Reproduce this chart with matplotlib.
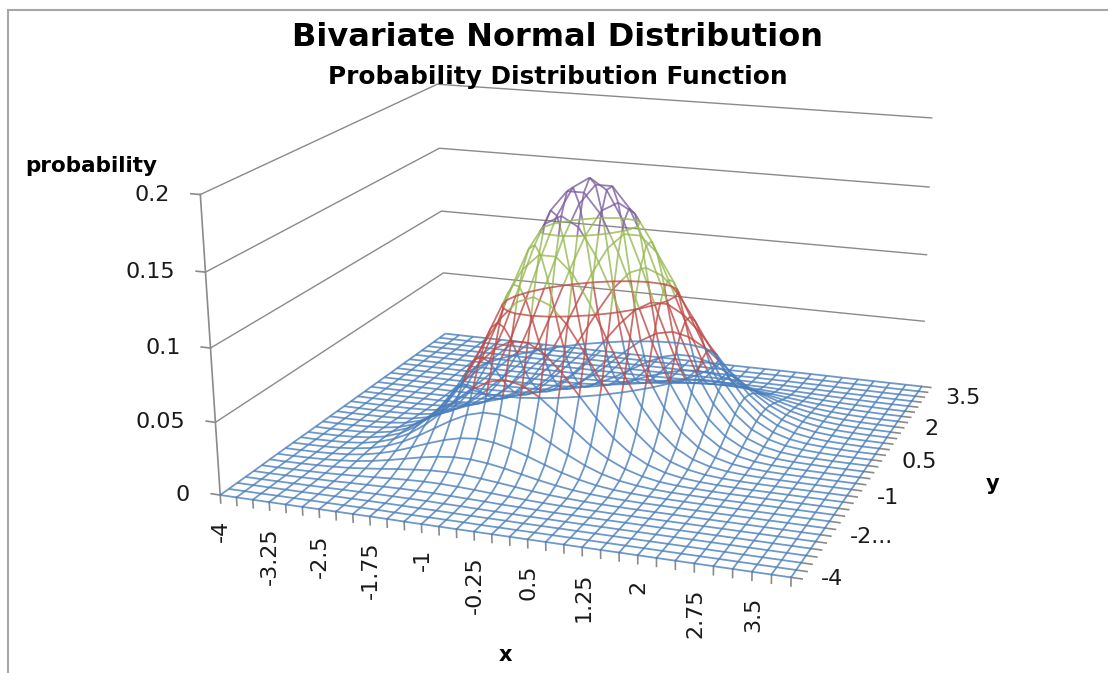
import numpy as np
import matplotlib
matplotlib.use('Agg')
import matplotlib.pyplot as plt
from matplotlib.patches import Rectangle
from mpl_toolkits.mplot3d import proj3d
from mpl_toolkits.mplot3d.art3d import Line3DCollection

W, H = 1108, 673

x_vals = np.arange(-4, 4.25, 0.25)
y_vals = np.arange(-4, 4.25, 0.25)
x_ticks = [-4, -3.25, -2.5, -1.75, -1, -0.25, 0.5, 1.25, 2, 2.75, 3.5]
x_tick_labels = ['-4', '-3.25', '-2.5', '-1.75', '-1', '-0.25', '0.5', '1.25', '2', '2.75', '3.5']
y_ticks = [-4, -2.5, -1, 0.5, 2, 3.5]
y_tick_labels = ['-4', '-2...', '-1', '0.5', '2', '3.5']
z_ticks = [0, 0.05, 0.1, 0.15, 0.2]
z_tick_labels = ['0', '0.05', '0.1', '0.15', '0.2']

band_edges = [0.05, 0.1, 0.15]
band_colors = ['#4A7EBB', '#BE4B48', '#98B954', '#7D60A0']
grey = '#8a8a8a'

# probability, in thousandths. rows = x, columns = y
prob_milli = [
    [0, 0, 0, 0, 0, 0, .1, .1, .1, .1, .1, 0, 0, 0, 0, 0, 0, 0, 0, 0, 0, 0, 0, 0, 0, 0, 0, 0, 0, 0, 0, 0, 0],
    [0, 0, 0, 0, 0, 0, .1, .1, .2, .2, .1, .1, 0, 0, 0, 0, 0, 0, 0, 0, 0, 0, 0, 0, 0, 0, 0, 0, 0, 0, 0, 0, 0],
    [0, 0, 0, .1, .1, .2, .3, .3, .4, .4, .4, .3, .3, .2, .1, .1, 0, 0, 0, 0, 0, 0, 0, 0, 0, 0, 0, 0, 0, 0, 0, 0, 0],
    [0, .1, .1, .2, .3, .4, .6, .7, .9, .9, .9, .9, .7, .6, .4, .3, .2, .1, 0, 0, 0, 0, 0, 0, 0, 0, 0, 0, 0, 0, 0, 0, 0],
    [0, .1, .1, .3, .5, .7, 1.1, 1.4, 1.7, 2, 2, 2, 1.7, 1.4, 1.1, .7, .5, .3, .1, .1, 0, 0, 0, 0, 0, 0, 0, 0, 0, 0, 0, 0, 0],
    [0, .1, .2, .4, .7, 1.2, 1.8, 2.5, 3.2, 3.8, 4.2, 4.2, 3.8, 3.2, 2.5, 1.8, 1.2, .7, .4, .2, .1, 0, 0, 0, 0, 0, 0, 0, 0, 0, 0, 0, 0],
    [.1, .1, .3, .6, 1.1, 1.8, 2.9, 4.2, 5.6, 6.8, 7.8, 8.1, 7.8, 6.8, 5.6, 4.2, 2.9, 1.8, 1.1, .6, .3, .1, 0, 0, 0, 0, 0, 0, 0, 0, 0, 0, 0],
    [.1, .1, .3, .7, 1.4, 2.5, 4.2, 6.3, 8.8, 11.3, 13.3, 14.5, 14.5, 13.3, 11.3, 8.8, 6.3, 4.2, 2.5, 1.4, .7, .3, .1, .1, 0, 0, 0, 0, 0, 0, 0, 0, 0],
    [.1, .2, .4, .9, 1.7, 3.2, 5.6, 8.8, 12.8, 17.1, 21, 23.8, 24.9, 23.8, 21, 17.1, 12.8, 8.8, 5.6, 3.2, 1.7, .9, .4, .2, .1, 0, 0, 0, 0, 0, 0, 0, 0],
    [.1, .2, .4, .9, 2, 3.8, 6.8, 11.3, 17.1, 23.8, 30.6, 36.2, 39.3, 39.3, 36.2, 30.6, 23.8, 17.1, 11.3, 6.8, 3.8, 2, .9, .4, .2, .1, 0, 0, 0, 0, 0, 0, 0],
    [.1, .1, .4, .9, 2, 4.2, 7.8, 13.3, 21, 30.6, 41, 50.5, 57.2, 59.7, 57.2, 50.5, 41, 30.6, 21, 13.3, 7.8, 4.2, 2, .9, .4, .1, 0, 0, 0, 0, 0, 0, 0],
    [0, .1, .3, .9, 2, 4.2, 8.1, 14.5, 23.8, 36.2, 50.5, 64.9, 76.6, 83.3, 83.3, 76.6, 64.9, 50.5, 36.2, 23.8, 14.5, 8.1, 4.2, 2, .9, .3, .1, 0, 0, 0, 0, 0, 0],
    [0, .1, .3, .7, 1.7, 3.8, 7.8, 14.5, 24.9, 39.3, 57.2, 76.6, 94.4, 106.9, 111.5, 106.9, 94.4, 76.6, 57.2, 39.3, 24.9, 14.5, 7.8, 3.8, 1.7, .7, .3, .1, 0, 0, 0, 0, 0],
    [0, .1, .2, .6, 1.4, 3.2, 6.8, 13.3, 23.8, 39.3, 59.7, 83.3, 106.9, 126.3, 137.3, 137.3, 126.3, 106.9, 83.3, 59.7, 39.3, 23.8, 13.3, 6.8, 3.2, 1.4, .6, .2, .1, 0, 0, 0, 0],
    [0, .1, .1, .4, 1.1, 2.5, 5.6, 11.3, 21, 36.2, 57.2, 83.3, 111.5, 137.3, 155.6, 162.2, 155.6, 137.3, 111.5, 83.3, 57.2, 36.2, 21, 11.3, 5.6, 2.5, 1.1, .4, .1, .1, 0, 0, 0],
    [0, 0, .1, .3, .7, 1.8, 4.2, 8.8, 17.1, 30.6, 50.5, 76.6, 106.9, 137.3, 162.2, 176.3, 176.3, 162.2, 137.3, 106.9, 76.6, 50.5, 30.6, 17.1, 8.8, 4.2, 1.8, .7, .3, .1, 0, 0, 0],
    [0, 0, .1, .2, .5, 1.2, 2.9, 6.3, 12.8, 23.8, 41, 64.9, 94.4, 126.3, 155.6, 176.3, 183.8, 176.3, 155.6, 126.3, 94.4, 64.9, 41, 23.8, 12.8, 6.3, 2.9, 1.2, .5, .2, .1, 0, 0],
    [0, 0, 0, .1, .3, .7, 1.8, 4.2, 8.8, 17.1, 30.6, 50.5, 76.6, 106.9, 137.3, 162.2, 176.3, 176.3, 162.2, 137.3, 106.9, 76.6, 50.5, 30.6, 17.1, 8.8, 4.2, 1.8, .7, .3, .1, 0, 0],
    [0, 0, 0, .1, .1, .4, 1.1, 2.5, 5.6, 11.3, 21, 36.2, 57.2, 83.3, 111.5, 137.3, 155.6, 162.2, 155.6, 137.3, 111.5, 83.3, 57.2, 36.2, 21, 11.3, 5.6, 2.5, 1.1, .4, .1, .1, 0],
    [0, 0, 0, 0, .1, .2, .6, 1.4, 3.2, 6.8, 13.3, 23.8, 39.3, 59.7, 83.3, 106.9, 126.3, 137.3, 137.3, 126.3, 106.9, 83.3, 59.7, 39.3, 23.8, 13.3, 6.8, 3.2, 1.4, .6, .2, .1, 0],
    [0, 0, 0, 0, 0, .1, .3, .7, 1.7, 3.8, 7.8, 14.5, 24.9, 39.3, 57.2, 76.6, 94.4, 106.9, 111.5, 106.9, 94.4, 76.6, 57.2, 39.3, 24.9, 14.5, 7.8, 3.8, 1.7, .7, .3, .1, 0],
    [0, 0, 0, 0, 0, 0, .1, .3, .9, 2, 4.2, 8.1, 14.5, 23.8, 36.2, 50.5, 64.9, 76.6, 83.3, 83.3, 76.6, 64.9, 50.5, 36.2, 23.8, 14.5, 8.1, 4.2, 2, .9, .3, .1, 0],
    [0, 0, 0, 0, 0, 0, 0, .1, .4, .9, 2, 4.2, 7.8, 13.3, 21, 30.6, 41, 50.5, 57.2, 59.7, 57.2, 50.5, 41, 30.6, 21, 13.3, 7.8, 4.2, 2, .9, .4, .1, .1],
    [0, 0, 0, 0, 0, 0, 0, .1, .2, .4, .9, 2, 3.8, 6.8, 11.3, 17.1, 23.8, 30.6, 36.2, 39.3, 39.3, 36.2, 30.6, 23.8, 17.1, 11.3, 6.8, 3.8, 2, .9, .4, .2, .1],
    [0, 0, 0, 0, 0, 0, 0, 0, .1, .2, .4, .9, 1.7, 3.2, 5.6, 8.8, 12.8, 17.1, 21, 23.8, 24.9, 23.8, 21, 17.1, 12.8, 8.8, 5.6, 3.2, 1.7, .9, .4, .2, .1],
    [0, 0, 0, 0, 0, 0, 0, 0, 0, .1, .1, .3, .7, 1.4, 2.5, 4.2, 6.3, 8.8, 11.3, 13.3, 14.5, 14.5, 13.3, 11.3, 8.8, 6.3, 4.2, 2.5, 1.4, .7, .3, .1, .1],
    [0, 0, 0, 0, 0, 0, 0, 0, 0, 0, 0, .1, .3, .6, 1.1, 1.8, 2.9, 4.2, 5.6, 6.8, 7.8, 8.1, 7.8, 6.8, 5.6, 4.2, 2.9, 1.8, 1.1, .6, .3, .1, .1],
    [0, 0, 0, 0, 0, 0, 0, 0, 0, 0, 0, 0, .1, .2, .4, .7, 1.2, 1.8, 2.5, 3.2, 3.8, 4.2, 4.2, 3.8, 3.2, 2.5, 1.8, 1.2, .7, .4, .2, .1, 0],
    [0, 0, 0, 0, 0, 0, 0, 0, 0, 0, 0, 0, 0, .1, .1, .3, .5, .7, 1.1, 1.4, 1.7, 2, 2, 2, 1.7, 1.4, 1.1, .7, .5, .3, .1, .1, 0],
    [0, 0, 0, 0, 0, 0, 0, 0, 0, 0, 0, 0, 0, 0, 0, .1, .2, .3, .4, .6, .7, .9, .9, .9, .9, .7, .6, .4, .3, .2, .1, .1, 0],
    [0, 0, 0, 0, 0, 0, 0, 0, 0, 0, 0, 0, 0, 0, 0, 0, 0, .1, .1, .2, .3, .3, .4, .4, .4, .3, .3, .2, .1, .1, 0, 0, 0],
    [0, 0, 0, 0, 0, 0, 0, 0, 0, 0, 0, 0, 0, 0, 0, 0, 0, 0, 0, 0, 0, .1, .1, .2, .2, .1, .1, 0, 0, 0, 0, 0, 0],
    [0, 0, 0, 0, 0, 0, 0, 0, 0, 0, 0, 0, 0, 0, 0, 0, 0, 0, 0, 0, 0, 0, .1, .1, .1, .1, .1, 0, 0, 0, 0, 0, 0],
]


def split_edge(p0, p1):
    # cut one mesh edge where it crosses a colour band
    z0, z1 = p0[2], p1[2]
    ts = [0.0, 1.0]
    for level in band_edges:
        if (z0 - level) * (z1 - level) < 0:
            ts.append((level - z0) / (z1 - z0))
    ts.sort()
    parts = []
    for a, b in zip(ts[:-1], ts[1:]):
        start = p0 + a * (p1 - p0)
        end = p0 + b * (p1 - p0)
        band = np.searchsorted(band_edges, (start[2] + end[2]) / 2)
        parts.append((start, end, band))
    return parts


def mesh_segments(X, Y, Z):
    points = np.dstack([X, Y, Z])
    segments = [[] for _ in band_colors]
    for i in range(points.shape[0]):
        for j in range(points.shape[1]):
            if i + 1 < points.shape[0]:
                for start, end, band in split_edge(points[i, j], points[i + 1, j]):
                    segments[band].append([start, end])
            if j + 1 < points.shape[1]:
                for start, end, band in split_edge(points[i, j], points[i, j + 1]):
                    segments[band].append([start, end])
    return segments


def label_at(ax, x, y, z, text, dx, dy, **kwargs):
    # text next to a 3d point, shifted by some pixels
    u, v, _ = proj3d.proj_transform(x, y, z, ax.get_proj())
    ax.annotate(text, xy=(u, v), xytext=(dx, dy), textcoords='offset pixels',
                annotation_clip=False, color='#1a1a1a', family='DejaVu Sans', fontsize=16, **kwargs)


fig = plt.figure(figsize=(W / 100, H / 100), dpi=100)
side = 800.5
ax = fig.add_axes([(580.2 - side / 2) / W, (363.7 - side / 2) / H, side / W, side / H], projection='3d')
ax.set_axis_off()
ax.computed_zorder = False
ax.patch.set_alpha(0)

X, Y = np.meshgrid(x_vals, y_vals, indexing='ij')
Z = np.array(prob_milli) / 1000.0

# back walls
x_lo, x_hi = x_vals[0], x_vals[-1]
y_lo, y_hi = y_vals[0], y_vals[-1]
for z in z_ticks[1:]:
    ax.plot([x_lo, x_lo, x_hi], [y_lo, y_hi, y_hi], [z, z, z], color=grey, lw=1, zorder=1)
ax.plot([x_lo, x_lo], [y_lo, y_lo], [0, z_ticks[-1]], color=grey, lw=1.2, zorder=1)

# ticks
for z in z_ticks:
    ax.plot([x_lo - 0.14, x_lo], [y_lo, y_lo], [z, z], color=grey, lw=1.2, zorder=1)
for x in x_vals:
    ax.plot([x, x], [y_lo, y_lo], [-0.0055, 0], color=grey, lw=1.2, zorder=1)
for y in y_vals:
    ax.plot([x_hi, x_hi + 0.14], [y, y], [0, 0], color=grey, lw=1.2, zorder=1)

# wire mesh, one colour per probability band
for segments, color in zip(mesh_segments(X, Y, Z), band_colors):
    lines = Line3DCollection(segments, colors=color, linewidths=1.3, alpha=0.8, zorder=3)
    ax.add_collection3d(lines)
ax.contour(X, Y, Z, levels=band_edges, colors=band_colors[:3], linewidths=1.3, alpha=0.8, zorder=3)

ax.set_xlim(-4, 4)
ax.set_ylim(-4, 4)
ax.set_zlim(0, 0.2)
ax.view_init(elev=17.312, azim=-69.107, roll=0.637)
ax.set_proj_type('persp', focal_length=0.502)
ax.set_box_aspect((1.904, 1.756, 1))

for z, text in zip(z_ticks, z_tick_labels):
    label_at(ax, x_lo, y_lo, z, text, -30, 0, ha='right', va='center')
for x, text in zip(x_ticks, x_tick_labels):
    label_at(ax, x, y_lo, 0, text, 1, -25, ha='center', va='top', rotation=90)
for y, text in zip(y_ticks, y_tick_labels):
    label_at(ax, x_hi, y, 0, text, 30, -2, ha='left', va='center')

fig.text(557.5 / W, 1 - 37 / H, 'Bivariate Normal Distribution', family='DejaVu Sans', fontweight='bold',
         fontsize=23, ha='center', va='center', color='black')
fig.text(558 / W, 1 - 77 / H, 'Probability Distribution Function', family='DejaVu Sans', fontweight='bold',
         fontsize=17.8, ha='center', va='center', color='black')
fig.text(91 / W, 1 - 166 / H, 'probability', family='DejaVu Sans', fontweight='bold', fontsize=15.5,
         ha='center', va='center', color='black')
fig.text(505 / W, 1 - 655 / H, 'x', family='DejaVu Sans', fontweight='bold', fontsize=15,
         ha='center', va='center', color='black')
fig.text(993 / W, 1 - 484 / H, 'y', family='DejaVu Sans', fontweight='bold', fontsize=15,
         ha='center', va='center', color='black')

# chart area border, runs off the right and bottom of the picture
fig.add_artist(Rectangle((8 / W, -0.05), 1.2, 1.05 - 10 / H, transform=fig.transFigure, fill=False,
                         edgecolor='#a6a6a6', linewidth=1.5))

fig.savefig('out.png', dpi=100)
